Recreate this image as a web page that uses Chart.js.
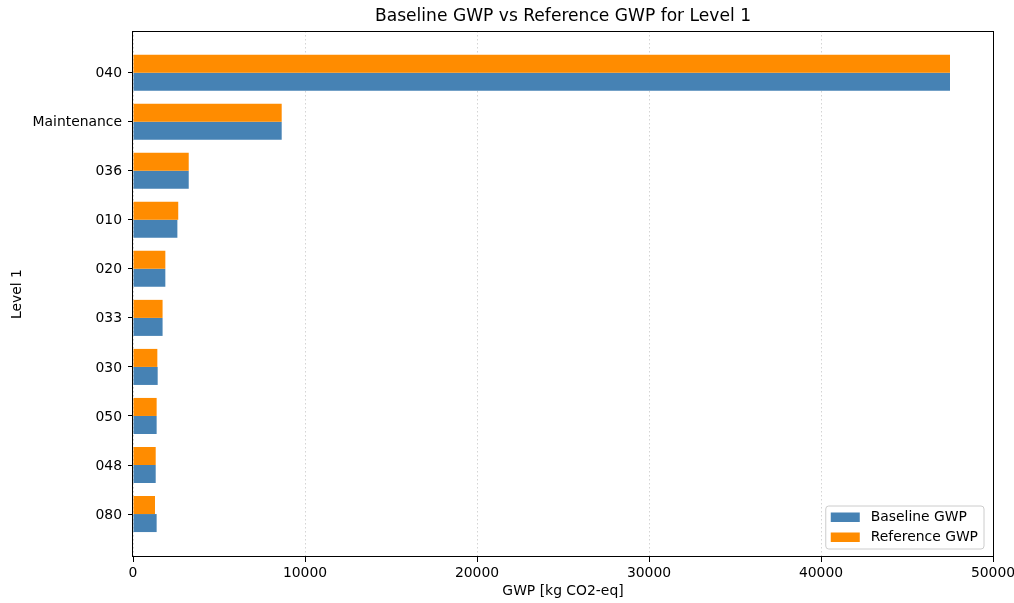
<!DOCTYPE html>
<html>
<head>
<meta charset="utf-8">
<title>Baseline GWP vs Reference GWP for Level 1</title>
<script src="https://cdn.jsdelivr.net/npm/chart.js@4.4.1/dist/chart.umd.min.js"></script>
<style>
  html, body { margin: 0; padding: 0; background: #ffffff; }
  canvas { display: block; }
</style>
</head>
<body>
<canvas id="chart" width="1014" height="603"></canvas>
<script>
// Level 1 groups, listed top to bottom
const categories = ['040', 'Maintenance', '036', '010', '020', '033', '030', '050', '048', '080'];

// GWP per group [kg CO2-eq]
const baselineGwp  = [47500, 8645, 3240, 2580, 1880, 1720, 1435, 1375, 1320, 1375];
const referenceGwp = [47500, 8645, 3240, 2630, 1880, 1720, 1415, 1375, 1320, 1280];

// x-axis tick values
const xTicks = [0, 10000, 20000, 30000, 40000, 50000];

const TITLE = 'Baseline GWP vs Reference GWP for Level 1';
const FONT = 'DejaVu Sans';
const BLUE = '#4682b4';
const ORANGE = '#ff8c00';

const toPoints = vals => vals.map((v, i) => ({ x: v, y: i }));

// Frame around the plot area, drawn above the bars
const framePlugin = {
  id: 'frame',
  afterDatasetsDraw(chart) {
    const { ctx, chartArea: a } = chart;
    ctx.save();
    ctx.strokeStyle = '#000000';
    ctx.lineWidth = 1;
    ctx.strokeRect(Math.round(a.left) - 0.5, Math.round(a.top) + 0.5,
                   Math.round(a.right - a.left) + 1, Math.round(a.bottom - a.top) - 1);
    ctx.restore();
  }
};

// Title centred over the plot area
const axesTitle = {
  id: 'axesTitle',
  afterDraw(chart) {
    const { ctx, chartArea: a } = chart;
    ctx.save();
    ctx.font = '17.1px "' + FONT + '"';
    ctx.fillStyle = '#000000';
    ctx.textAlign = 'center';
    ctx.textBaseline = 'middle';
    ctx.fillText(TITLE, (a.left + a.right) / 2, 17);
    ctx.restore();
  }
};

// Legend box in the lower right corner of the plot area
const insideLegend = {
  id: 'insideLegend',
  afterDraw(chart) {
    const { ctx, chartArea: a } = chart;
    const items = [
      { label: 'Baseline GWP', color: BLUE },
      { label: 'Reference GWP', color: ORANGE }
    ];
    ctx.save();
    ctx.font = '13.9px "' + FONT + '"';
    const textW = Math.max(...items.map(it => ctx.measureText(it.label).width));
    const pad = 5, handle = 29, gap = 11, rowH = 20;
    const w = pad + handle + gap + textW + pad + 1;
    const h = rowH * items.length + 3;
    const x = a.right - 9 - w;
    const y = a.bottom - 8 - h;
    const r = 3;
    ctx.beginPath();
    ctx.moveTo(x + r, y);
    ctx.lineTo(x + w - r, y);
    ctx.arcTo(x + w, y, x + w, y + r, r);
    ctx.lineTo(x + w, y + h - r);
    ctx.arcTo(x + w, y + h, x + w - r, y + h, r);
    ctx.lineTo(x + r, y + h);
    ctx.arcTo(x, y + h, x, y + h - r, r);
    ctx.lineTo(x, y + r);
    ctx.arcTo(x, y, x + r, y, r);
    ctx.closePath();
    ctx.fillStyle = 'rgba(255,255,255,0.8)';
    ctx.fill();
    ctx.strokeStyle = '#cccccc';
    ctx.lineWidth = 1;
    ctx.stroke();
    items.forEach((it, i) => {
      const cy = y + 11 + i * rowH;
      ctx.fillStyle = it.color;
      ctx.fillRect(x + pad, cy - 4.5, handle, 9.5);
      ctx.fillStyle = '#000000';
      ctx.textAlign = 'left';
      ctx.textBaseline = 'middle';
      ctx.fillText(it.label, x + pad + handle + gap, cy);
    });
    ctx.restore();
  }
};

new Chart(document.getElementById('chart'), {
  type: 'bar',
  data: {
    datasets: [
      { label: 'Reference GWP', data: toPoints(referenceGwp), backgroundColor: ORANGE, borderWidth: 0 },
      { label: 'Baseline GWP', data: toPoints(baselineGwp), backgroundColor: BLUE, borderWidth: 0 }
    ]
  },
  options: {
    indexAxis: 'y',
    responsive: false,
    animation: false,
    events: [],
    layout: { padding: { top: 31, right: 21, bottom: 0, left: 0 } },
    datasets: { bar: { categoryPercentage: 0.735, barPercentage: 1.0 } },
    plugins: {
      legend: { display: false },
      tooltip: { enabled: false },
      title: { display: false }
    },
    scales: {
      x: {
        type: 'linear',
        position: 'bottom',
        min: 0,
        max: 50000,
        offset: false,
        afterBuildTicks: s => { s.ticks = xTicks.map(v => ({ value: v })); },
        afterFit: s => { s.height = 46; s.paddingLeft = 0; s.paddingRight = 0; },
        ticks: {
          color: '#000000',
          font: { family: FONT, size: 13.9 },
          padding: 3,
          maxRotation: 0,
          callback: v => String(v)
        },
        grid: {
          display: true,
          offset: false,
          drawOnChartArea: true,
          drawTicks: true,
          color: 'rgba(176,176,176,0.55)',
          lineWidth: 1,
          tickColor: '#000000',
          tickLength: 5,
          tickBorderDash: []
        },
        border: { display: false, dash: [1.5, 2.5] },
        title: {
          display: true,
          text: 'GWP [kg CO2-eq]',
          color: '#000000',
          font: { family: FONT, size: 13.9 },
          padding: { top: 3, bottom: 3 }
        }
      },
      y: {
        type: 'linear',
        reverse: true,
        offset: false,
        min: -0.85,
        max: 9.876,
        afterBuildTicks: s => { s.ticks = categories.map((_, i) => ({ value: i })); },
        afterFit: s => { s.width = 133; s.paddingTop = 0; s.paddingBottom = 0; },
        ticks: {
          color: '#000000',
          font: { family: FONT, size: 13.9 },
          padding: 6,
          labelOffset: 1,
          autoSkip: false,
          callback: v => categories[v]
        },
        grid: {
          display: true,
          offset: false,
          drawOnChartArea: false,
          drawTicks: true,
          tickColor: '#000000',
          tickLength: 5
        },
        border: { display: false },
        title: {
          display: true,
          text: 'Level 1',
          color: '#000000',
          font: { family: FONT, size: 13.9 },
          padding: { top: 9, bottom: 9 }
        }
      }
    }
  },
  plugins: [framePlugin, axesTitle, insideLegend]
});
</script>
</body>
</html>
